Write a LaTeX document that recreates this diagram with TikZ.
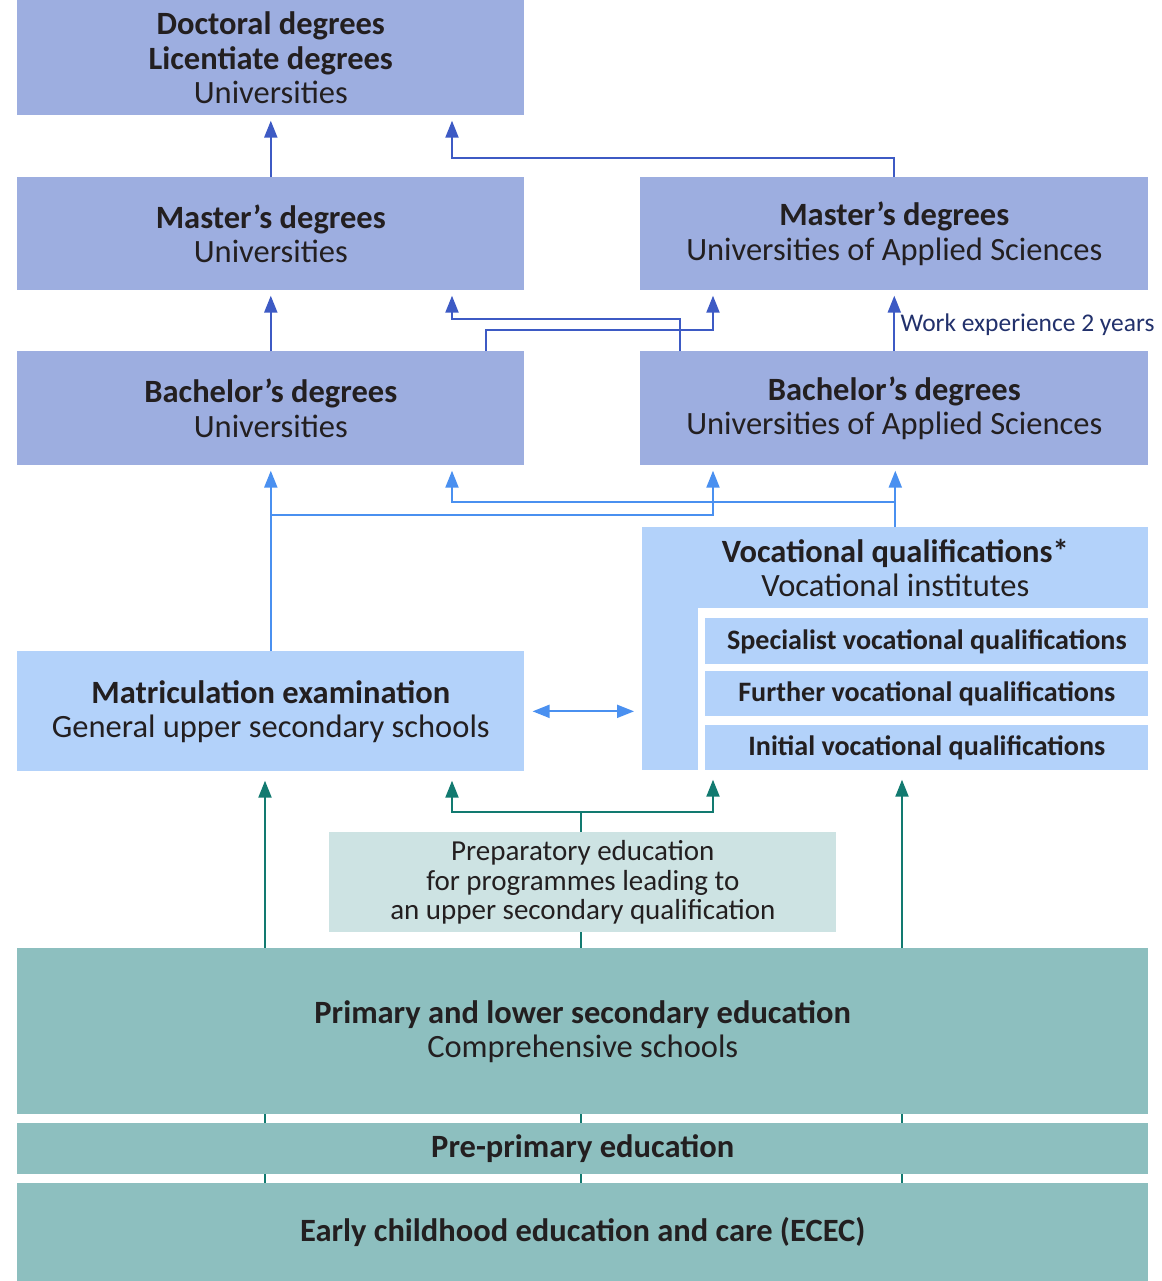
\documentclass[tikz,border=0pt]{standalone}
\usepackage{fontspec}
\setmainfont{Carlito}
\usetikzlibrary{arrows.meta}
\usetikzlibrary{calc}
\usetikzlibrary{backgrounds}
\definecolor{uniFill}{RGB}{157,174,224}
\definecolor{vocFill}{RGB}{179,210,250}
\definecolor{baseFill}{RGB}{141,191,191}
\definecolor{prepFill}{RGB}{205,227,227}
\definecolor{uniLine}{RGB}{61,90,196}
\definecolor{vocLine}{RGB}{74,144,240}
\definecolor{baseLine}{RGB}{18,122,112}
\definecolor{txt}{RGB}{35,31,32}
\newcommand{\mainsize}{\fontsize{18.5}{19.5}\selectfont}
\newcommand{\subsize}{\fontsize{16}{18}\selectfont}
\newcommand{\prepsize}{\fontsize{16.5}{16.8}\selectfont}
\newcommand{\worksize}{\fontsize{14.5}{16}\selectfont}
\tikzset{%
  box/.style={anchor=north west, inner sep=0pt, align=center, text=txt, font=\mainsize},
  ubox/.style={box, fill=uniFill},
  vbox/.style={box, fill=vocFill},
  bbox/.style={box, fill=baseFill},
  tip/.style={-{Triangle[length=0.34cm,width=0.26cm]}},
  barr/.style={tip, draw=uniLine, line width=1.2pt, shorten >=0.1cm},
  larr/.style={tip, draw=vocLine, line width=1.2pt, shorten >=0.1cm},
  tarr/.style={tip, draw=baseLine, line width=1.2pt, shorten >=0.18cm},
  tline/.style={draw=baseLine, line width=1.2pt}
}

\begin{document}
\begin{tikzpicture}[x=0.02cm,y=-0.02cm]
\useasboundingbox (0,0) rectangle (1161,1281);

% column positions of the side arrows
\coordinate (cL) at (452,0);
\coordinate (cR) at (713,0);
\coordinate (tL) at (265,0);
\coordinate (tM) at (581,0);
\coordinate (tR) at (902,0);
\coordinate (tlv) at (581,812);

% university level
\node[ubox, minimum width=10.14cm, minimum height=2.3cm] (doct) at (17,0) {\textbf{Doctoral degrees}\\\textbf{Licentiate degrees}\\Universities};
\node[ubox, minimum width=10.14cm, minimum height=2.26cm] (mastU) at (17,177) {\textbf{Master's degrees}\\Universities};
\node[ubox, minimum width=10.16cm, minimum height=2.26cm] (mastA) at (640,177) {\textbf{Master's degrees}\\Universities of Applied Sciences};
\node[ubox, minimum width=10.14cm, minimum height=2.28cm] (bachU) at (17,351) {\textbf{Bachelor's degrees}\\Universities};
\node[ubox, minimum width=10.16cm, minimum height=2.28cm] (bachA) at (640,351) {\textbf{Bachelor's degrees}\\Universities of Applied Sciences};

% upper secondary level
\node[vbox, minimum width=10.12cm, minimum height=1.62cm] (voc) at (642,527) {\textbf{Vocational qualifications*}\\Vocational institutes};
\node[vbox, minimum width=1.12cm, minimum height=3.26cm] (vocCol) at (642,607) {};
\node[vbox, font=\subsize, minimum width=8.86cm, minimum height=0.92cm] (spec) at (705,618) {\textbf{Specialist vocational qualifications}};
\node[vbox, font=\subsize, minimum width=8.86cm, minimum height=0.9cm] (furth) at (705,671) {\textbf{Further vocational qualifications}};
\node[vbox, font=\subsize, minimum width=8.86cm, minimum height=0.9cm] (init) at (705,725) {\textbf{Initial vocational qualifications}};
\node[vbox, minimum width=10.14cm, minimum height=2.4cm] (matric) at (17,651) {\textbf{Matriculation examination}\\General upper secondary schools};

% basic level
\node[box, fill=prepFill, font=\prepsize, minimum width=10.14cm, minimum height=2cm] (prep) at (329,832) {Preparatory education\\for programmes leading to\\an upper secondary qualification};
\node[bbox, minimum width=22.62cm, minimum height=3.32cm] (prim) at (17,948) {\textbf{Primary and lower secondary education}\\Comprehensive schools};
\node[bbox, minimum width=22.62cm, minimum height=1.02cm] (pre) at (17,1123) {\textbf{Pre-primary education}};
\node[bbox, minimum width=22.62cm, minimum height=1.96cm] (ecec) at (17,1183) {\textbf{Early childhood education and care (ECEC)}};

% teal arrows, behind the boxes
\begin{scope}[on background layer]
\draw[tarr] (tL |- ecec.south) -- (tL |- matric.south);
\draw[tarr] (tR |- ecec.south) -- (tR |- init.south);
\draw[tline] (tM |- ecec.south) -- (tlv);
\end{scope}
\draw[tarr] (tlv) -| (cL |- matric.south);
\draw[tarr] (tlv) -| (cR |- init.south);

% light blue arrows
\coordinate (llA) at (0,515);
\coordinate (llB) at (0,502);
\draw[larr] (matric.north) -- (bachU.south);
\draw[larr] (matric.north |- llA) -| (cR |- bachA.south);
\draw[larr] (voc.north) -- (voc.north |- bachA.south);
\draw[larr] (voc.north |- llB) -| (cL |- bachU.south);
\draw[larr, {Triangle[length=0.34cm,width=0.26cm]}-{Triangle[length=0.34cm,width=0.26cm]}, shorten <=0.16cm, shorten >=0.16cm] (matric.east) -- (matric.east -| vocCol.west);

% dark blue arrows
\coordinate (blA) at (0,158);
\coordinate (bx1) at (680,319);
\coordinate (bx2) at (486,330);
\draw[barr] (mastU.north) -- (doct.south);
\draw[barr] (mastA.north) |- (cL |- blA) -- (cL |- doct.south);
\draw[barr] (bachU.north) -- (mastU.south);
\draw[barr] (bx1 |- bachA.north) |- (cL |- bx1) -- (cL |- mastU.south);
\draw[barr] (bx2 |- bachU.north) |- (cR |- bx2) -- (cR |- mastA.south);
\draw[barr] (bachA.north) -- (mastA.south) node[midway, right, xshift=3pt, yshift=-2pt, inner sep=0pt, text=uniLine!55!black, font=\worksize] (work) {Work experience 2 years};

\end{tikzpicture}
\end{document}
